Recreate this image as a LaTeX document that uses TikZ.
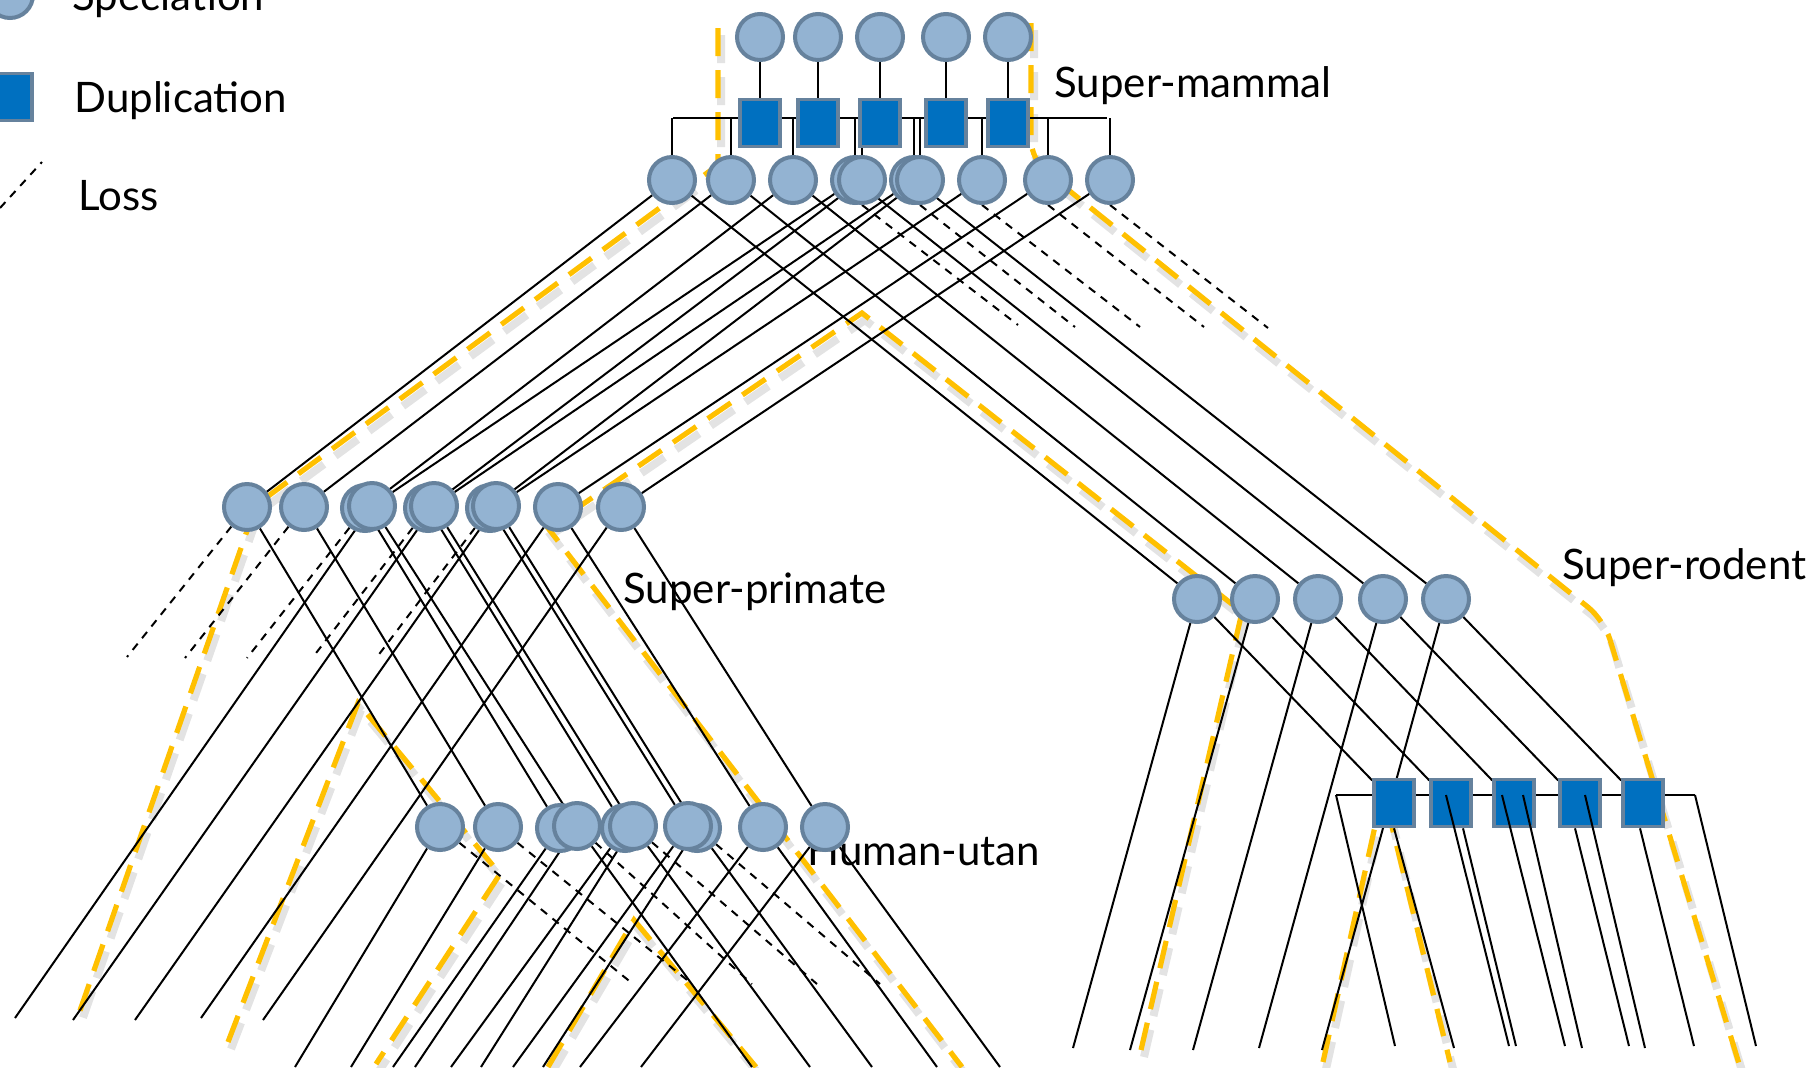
\documentclass[tikz,border=0pt]{standalone}
\usepackage{fontspec}
\setmainfont{Lato}
\pgfdeclarelayer{slayer}
\pgfdeclarelayer{ylayer}
\pgfdeclarelayer{blayer}
\pgfsetlayers{slayer,ylayer,blayer,main}
\definecolor{specfill}{HTML}{93B3D2}
\definecolor{specline}{HTML}{66829D}
\definecolor{dupfill}{HTML}{0070C0}
\definecolor{gold}{HTML}{FFC000}
\begin{document}
\begin{tikzpicture}[x=0.5pt,y=-0.5pt,
  spec/.style={circle,fill=specfill,draw=specline,line width=2pt,minimum size=23pt,inner sep=0pt},
  dupbox/.style={rectangle,fill=dupfill,draw=specline,line width=1.8pt,minimum width=20pt,minimum height=23.5pt,inner sep=0pt},
  conn/.style={draw=black,line width=1pt},
  lossln/.style={draw=black,line width=1pt,dash pattern=on 4pt off 3.5pt},
  ydash/.style={draw=gold,line width=2.6pt,dash pattern=on 14pt off 7pt},
  yshade/.style={draw=black!11,line width=4pt,dash pattern=on 14pt off 7pt,shift={(3,7)}},
  lbl/.style={font=\fontsize{21}{25}\selectfont,anchor=base west,inner sep=0pt}]
\useasboundingbox (0,0) rectangle (1816,1067);
\clip (0,0) rectangle (1816,1067);

% ---------- labels ----------
\node[lbl] (txS) at (72,10) {Speciation};
\node[lbl] (txD) at (74,112) {Duplication};
\node[lbl] (txL) at (78,210) {Loss};
\node[lbl] (txM) at (1054,97) {Super-mammal};
\node[lbl] (txP) at (623,603) {Super-primate};
\node[lbl] (txH) at (807,865) {Human-utan};
\node[lbl] (txR) at (1562,579) {Super-rodent};

% ---------- legend ----------
\node[spec] (legS) at (10,-5) {};
\node[dupbox] (legD) at (12,97) {};
\coordinate (legLa) at (0,208);
\coordinate (legLb) at (42,162);

% ---------- super-mammal ----------
\foreach \i/\x in {1/760,2/818,3/880,4/946,5/1008}{
  \node[spec] (t\i) at (\x,37) {};
  \node[dupbox] (s\i) at (\x,123) {};
}
\coordinate (mbl) at (673,118);
\coordinate (mbr) at (1107,118);
\node[spec] (m1) at (672,180) {};
\node[spec] (m2) at (731,180) {};
\node[spec] (m3) at (793,180) {};
\node[spec] (m4a) at (855,180) {};
\node[spec] (m4b) at (862,180) {};
\node[spec] (m5a) at (914,180) {};
\node[spec] (m5b) at (920,180) {};
\node[spec] (m6) at (982,180) {};
\node[spec] (m7) at (1048,180) {};
\node[spec] (m8) at (1110,180) {};

% ---------- super-primate ----------
\node[spec] (p1) at (247,507) {};
\node[spec] (p2) at (304,507) {};
\node[spec] (p3a) at (365,508) {};
\node[spec] (p3b) at (372,506) {};
\node[spec] (p4a) at (428,508) {};
\node[spec] (p4b) at (434,506) {};
\node[spec] (p5a) at (490,508) {};
\node[spec] (p5b) at (496,506) {};
\node[spec] (p6) at (558,507) {};
\node[spec] (p7) at (621,507) {};

% ---------- human-utan ----------
\node[spec] (h1) at (440,827) {};
\node[spec] (h2) at (498,827) {};
\node[spec] (h3a) at (560,828) {};
\node[spec] (h3b) at (577,826) {};
\node[spec] (h4a) at (625,828) {};
\node[spec] (h4b) at (633,826) {};
\node[spec] (h5b) at (697,828) {};
\node[spec] (h5a) at (688,826) {};
\node[spec] (h6) at (763,827) {};
\node[spec] (h7) at (825,827) {};

% ---------- super-rodent ----------
\foreach \i/\x in {1/1197,2/1255,3/1318,4/1383,5/1446}{
  \node[spec] (r\i) at (\x,599) {};
}
\foreach \i/\x in {1/1394,2/1451,3/1514,4/1580,5/1643}{
  \node[dupbox] (d\i) at (\x,803) {};
}
\coordinate (rbl) at (1336,795);
\coordinate (rbr) at (1695,795);
\coordinate (rc2) at (1446,795);
\coordinate (rc3) at (1502,795);
\coordinate (rc4) at (1523,795);
\coordinate (rc5) at (1585,795);

% ---------- free ends ----------
\coordinate (lm4) at (1018,325);
\coordinate (lm5) at (1075,327);
\coordinate (lm6) at (1140,327);
\coordinate (lm7) at (1204,327);
\coordinate (lm8) at (1268,328);

\coordinate (lp1) at (127,657);
\coordinate (lp2) at (185,658);
\coordinate (lp3) at (247,658);
\coordinate (lp4) at (313,657);
\coordinate (lp5) at (377,657);

\coordinate (fp3) at (15,1018);
\coordinate (fp4) at (73,1020);
\coordinate (fp5) at (135,1020);
\coordinate (fp6) at (201,1018);
\coordinate (fp7) at (263,1020);

\coordinate (lh1) at (633,984);
\coordinate (lh2) at (692,984);
\coordinate (lh3) at (752,984);
\coordinate (lh4) at (817,984);
\coordinate (lh5) at (880,984);

\coordinate (fh1) at (295,1067);
\coordinate (fh2) at (351,1067);
\coordinate (fh3a) at (393,1067);
\coordinate (fh3b) at (415,1067);
\coordinate (fh4a) at (451,1067);
\coordinate (fh4b) at (481,1067);
\coordinate (fh5a) at (513,1067);
\coordinate (fh5b) at (543,1067);
\coordinate (fh6) at (580,1067);
\coordinate (fh7) at (641,1067);

\coordinate (gh3) at (752,1067);
\coordinate (gh4) at (810,1067);
\coordinate (gh5) at (872,1067);
\coordinate (gh6) at (937,1067);
\coordinate (gh7) at (1000,1067);

\coordinate (fr1) at (1073,1048);
\coordinate (fr2) at (1130,1050);
\coordinate (fr3) at (1193,1050);
\coordinate (fr4) at (1259,1048);
\coordinate (fr5) at (1322,1050);

\coordinate (fc1) at (1395,1046);
\coordinate (fc2) at (1509,1046);
\coordinate (fc3) at (1565,1046);
\coordinate (fc4) at (1582,1048);
\coordinate (fc5) at (1645,1048);
\coordinate (fc6) at (1756,1046);
\coordinate (fd1) at (1454,1048);
\coordinate (fd2) at (1516,1046);
\coordinate (fd4) at (1629,1046);
\coordinate (fd5) at (1694,1046);

% ---------- yellow outlines (with soft shadow) ----------
\begin{pgfonlayer}{slayer}
\draw[yshade] (718,28) -- (718,165) -- (256,505) -- (76,1022);
\draw[yshade] (1141,1050) -- (1242,612) -- (862,313) -- (548,528) -- (962,1067);
\draw[yshade] (228,1042) -- (358,703) -- (500,874) -- (376,1064);
\draw[yshade] (548,1067) -- (634,920) -- (756,1067);
\draw[yshade] (1323,1062) -- (1383,790) -- (1450,1062);
\draw[yshade,rounded corners=10pt] (1031,23) -- (1031,160) -- (1604,620) -- (1740,1067);
\end{pgfonlayer}
\begin{pgfonlayer}{ylayer}
\draw[ydash] (718,28) -- (718,165) -- (256,505) -- (76,1022);
\draw[ydash] (1141,1050) -- (1242,612) -- (862,313) -- (548,528) -- (962,1067);
\draw[ydash] (228,1042) -- (358,703) -- (500,874) -- (376,1064);
\draw[ydash] (548,1067) -- (634,920) -- (756,1067);
\draw[ydash] (1323,1062) -- (1383,790) -- (1450,1062);
\draw[ydash,rounded corners=10pt] (1031,23) -- (1031,160) -- (1604,620) -- (1740,1067);
\end{pgfonlayer}

% ---------- black connectors ----------
\begin{pgfonlayer}{blayer}
\draw[lossln] (legLa) -- (legLb);
\foreach \i in {1,...,5} \draw[conn] (t\i) -- (s\i);
\draw[conn] (mbl) -- (mbr);
\foreach \n in {m1,m2,m3,m4a,m4b,m5a,m5b,m6,m7,m8} \draw[conn] (\n |- mbl) -- (\n);
% mammal -> primate
\draw[conn] (m1) -- (p1);
\draw[conn] (m2) -- (p2);
\draw[conn] (m3) -- (p3a);
\draw[conn] (m4a) -- (p3b);
\draw[conn] (m4b) -- (p4a);
\draw[conn] (m5a) -- (p4b);
\draw[conn] (m5b) -- (p5a);
\draw[conn] (m6) -- (p5b);
\draw[conn] (m7) -- (p6);
\draw[conn] (m8) -- (p7);
% mammal -> rodent
\draw[conn] (m1) -- (r1);
\draw[conn] (m2) -- (r2);
\draw[conn] (m3) -- (r3);
\draw[conn] (m4a) -- (r4);
\draw[conn] (m5a) -- (r5);
% mammal losses
\draw[lossln] (m4b.south) -- (lm4);
\draw[lossln] (m5b.south) -- (lm5);
\draw[lossln] (m6.south) -- (lm6);
\draw[lossln] (m7.south) -- (lm7);
\draw[lossln] (m8.south) -- (lm8);
% primate
\draw[lossln] (p1) -- (lp1);
\draw[lossln] (p2) -- (lp2);
\draw[lossln] (p3a) -- (lp3);
\draw[lossln] (p4a) -- (lp4);
\draw[lossln] (p5a) -- (lp5);
\draw[conn] (p3b) -- (fp3);
\draw[conn] (p4b) -- (fp4);
\draw[conn] (p5b) -- (fp5);
\draw[conn] (p6) -- (fp6);
\draw[conn] (p7) -- (fp7);
\draw[conn] (p1) -- (h1);
\draw[conn] (p2) -- (h2);
\draw[conn] (p3a) -- (h3a);
\draw[conn] (p3b) -- (h3b);
\draw[conn] (p4a) -- (h4a);
\draw[conn] (p4b) -- (h4b);
\draw[conn] (p5a) -- (h5a);
\draw[conn] (p5b) -- (h5b);
\draw[conn] (p6) -- (h6);
\draw[conn] (p7) -- (h7);
% human-utan
\draw[lossln] (h1) -- (lh1);
\draw[lossln] (h2) -- (lh2);
\draw[lossln] (h3b) -- (lh3);
\draw[lossln] (h4b) -- (lh4);
\draw[lossln] (h5b) -- (lh5);
\draw[conn] (h1) -- (fh1);
\draw[conn] (h2) -- (fh2);
\draw[conn] (h3a) -- (fh3a);
\draw[conn] (h3b) -- (fh3b);
\draw[conn] (h4a) -- (fh4a);
\draw[conn] (h4b) -- (fh4b);
\draw[conn] (h5a) -- (fh5a);
\draw[conn] (h5b) -- (fh5b);
\draw[conn] (h6) -- (fh6);
\draw[conn] (h7) -- (fh7);
\draw[conn] (h3b) -- (gh3);
\draw[conn] (h4b) -- (gh4);
\draw[conn] (h5b) -- (gh5);
\draw[conn] (h6) -- (gh6);
\draw[conn] (h7) -- (gh7);
% rodent
\foreach \i in {1,...,5} \draw[conn] (r\i) -- (fr\i);
\foreach \i in {1,...,5} \draw[conn] (r\i) -- (d\i);
\draw[conn] (rbl) -- (rbr);
\draw[conn] (d1.south) -- (fd1);
\draw[conn] ([xshift=6pt]d2.south) -- (fd2);
\draw[conn] ([xshift=-2.5pt]d4.south) -- (fd4);
\draw[conn] ([xshift=-1.5pt]d5.south) -- (fd5);
\end{pgfonlayer}
% bracket drops drawn over the duplication boxes
\draw[conn] (rbl) -- (fc1);
\draw[conn] (rc2) -- (fc2);
\draw[conn] (rc3) -- (fc3);
\draw[conn] (rc4) -- (fc4);
\draw[conn] (rc5) -- (fc5);
\draw[conn] (rbr) -- (fc6);
\end{tikzpicture}
\end{document}
